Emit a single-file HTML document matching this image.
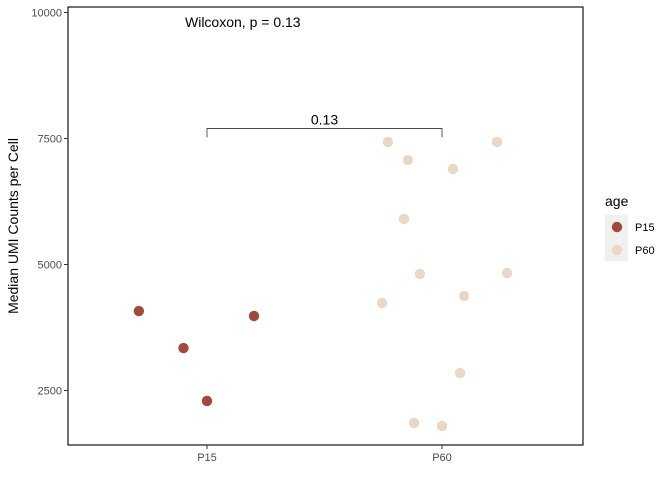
<!DOCTYPE html>
<html><head><meta charset="utf-8"><style>
body{margin:0;background:#fff;}
svg{display:block;font-family:"Liberation Sans",sans-serif;}
</style></head><body>
<svg id="chart" width="672" height="480"></svg>
<script>
const groups = ["P15", "P60"];
const p15Values = [4077, 3343, 2292, 3978];
const p15Jitter = [-0.29, -0.1, 0, 0.2];
const p60Values = [7431, 7073, 6895, 7431, 5903, 4812, 4831, 4236, 4375, 2847, 1855, 1796];
const p60Jitter = [-0.23, -0.145, 0.047, 0.234, -0.162, -0.094, 0.277, -0.255, 0.094, 0.077, -0.119, 0];
const yTicks = [2500, 5000, 7500, 10000];
const bracketValue = 7700;
const pLabel = "0.13";

const svg = document.getElementById('chart');
const NS = 'http://www.w3.org/2000/svg';
const L = 68, R = 583, T = 7, B = 445;
const y = v => 12.5 + (10000 - v) / 2500 * 126;
const x = i => 207 + i * 235;
const colors = ["#A3483B", "#E8D8C6"];
function mk(tag, attrs, text) {
  const e = document.createElementNS(NS, tag);
  for (const k in attrs) e.setAttribute(k, attrs[k]);
  if (text !== undefined) e.textContent = text;
  svg.appendChild(e);
  return e;
}
let e;
e = mk('rect', {x: L, y: T, width: R - L, height: B - T, fill: '#fff', stroke: '#000', 'stroke-width': 1.1});


yTicks.forEach(t => {
  e = mk('line', {x1: L - 4, x2: L, y1: y(t), y2: y(t), stroke: '#333'});
  
  
  e = mk('text', {x: L - 6, y: y(t) + 4, 'text-anchor': 'end', 'font-size': 11, fill: '#4d4d4d'}, t);
  
  
});
groups.forEach((g, i) => {
  e = mk('line', {x1: x(i), x2: x(i), y1: B, y2: B + 4, stroke: '#333'});
  
  
  e = mk('text', {x: x(i), y: B + 16, 'text-anchor': 'middle', 'font-size': 11, fill: '#4d4d4d'}, g);
  
  
});
e = mk('text', {x: 18, y: 226, 'text-anchor': 'middle', 'font-size': 14, transform: 'rotate(-90 18 226)'}, 'Median UMI Counts per Cell');


const by = y(bracketValue);
e = mk('path', {d: `M${x(0)},${by + 9}V${by}H${x(1)}V${by + 9}`, fill: 'none', stroke: '#333', 'stroke-width': 0.8});


e = mk('text', {x: (x(0) + x(1)) / 2, y: by - 4, 'text-anchor': 'middle', 'font-size': 14}, pLabel);


e = mk('text', {x: 185, y: 27, 'font-size': 14}, 'Wilcoxon, p = ' + pLabel);


[[p60Values, p60Jitter, 1], [p15Values, p15Jitter, 0]].forEach(([vals, jit, gi]) => {
  vals.forEach((v, k) => {
    e = mk('circle', {cx: x(gi + jit[k]), cy: y(v), r: 5.2, fill: colors[gi]});
    
    
  });
});
e = mk('text', {x: 605, y: 206, 'font-size': 14}, 'age');


e = mk('rect', {x: 605, y: 215, width: 23, height: 46, fill: '#f0f0f0'});


groups.forEach((g, i) => {
  e = mk('circle', {cx: 617, cy: 227 + i * 23, r: 5.2, fill: colors[i]});
  
  
  e = mk('text', {x: 635, y: 231 + i * 23, 'font-size': 11}, g);
  
  
});
</script>
</body></html>
